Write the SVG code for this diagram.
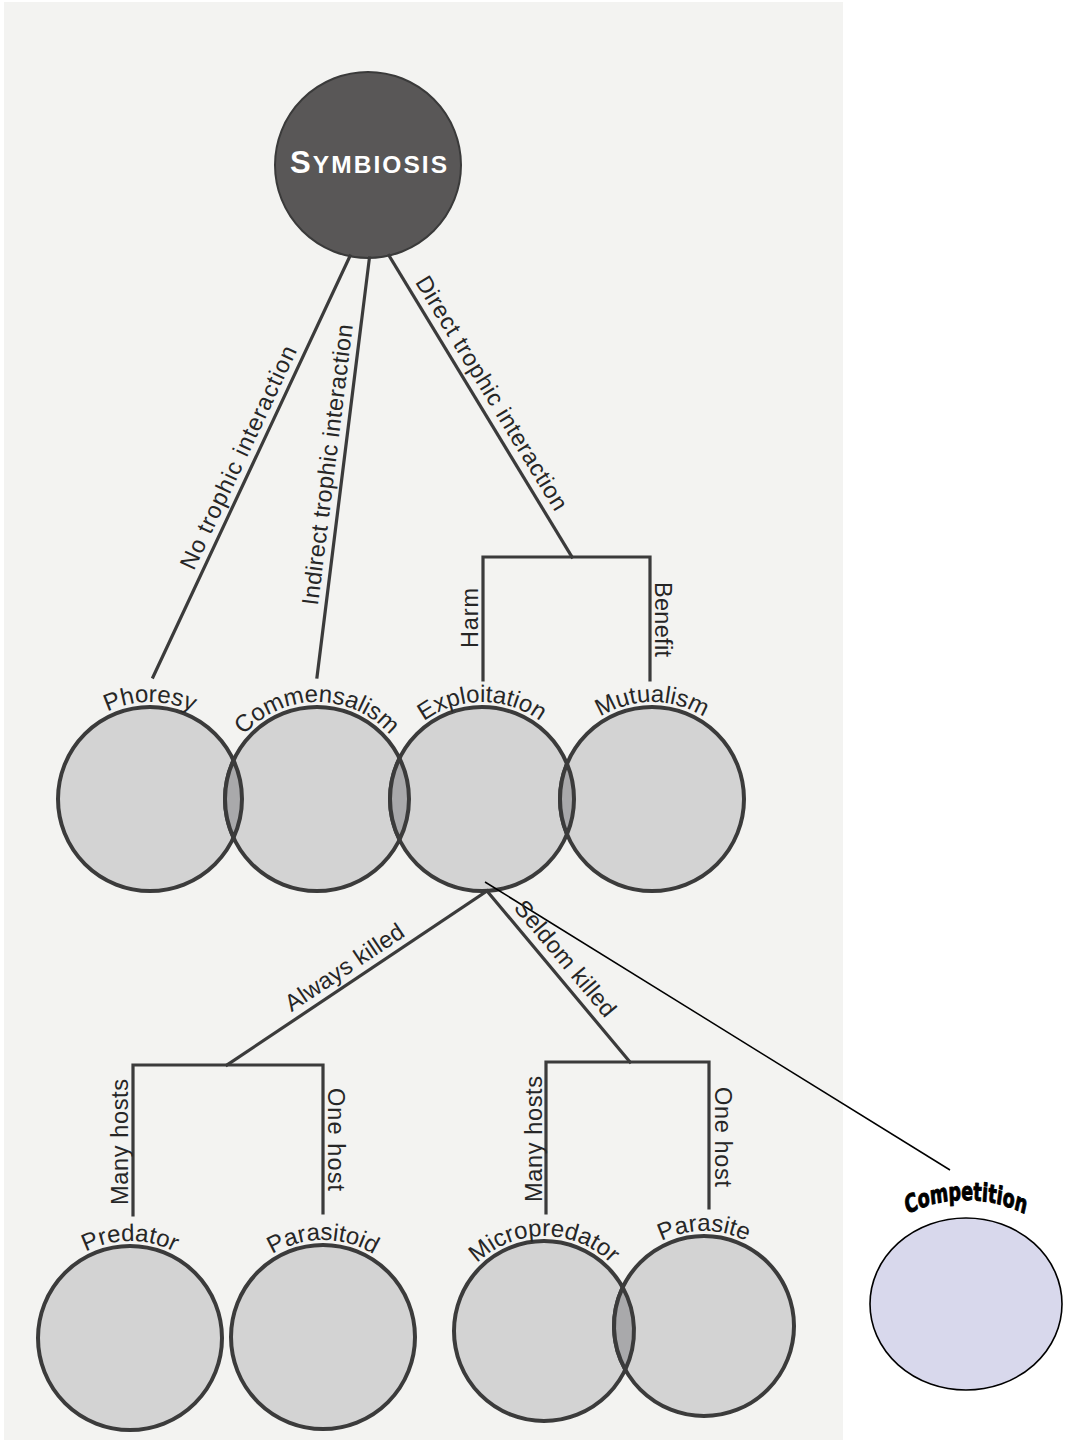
<svg xmlns="http://www.w3.org/2000/svg" width="1067" height="1440" viewBox="0 0 1067 1440">
  <style>
    .node { fill: #d3d3d3; stroke: #3b3b3b; stroke-width: 4; }
    .lens { fill: #a9a9ab; stroke: #3b3b3b; stroke-width: 4; }
    .edge { fill: none; stroke: #3b3b3b; stroke-width: 3.2; stroke-linecap: square; }
    .lbl { font-family: "Liberation Sans", Arial, sans-serif; font-size: 23.5px; fill: #262626; }
    .arc { font-family: "Liberation Sans", Arial, sans-serif; font-size: 24px; fill: #262626; }
    .title { font-family: "Liberation Sans", Arial, sans-serif; font-weight: bold; fill: #ffffff; }
    .comp { font-family: "DejaVu Sans", "Liberation Sans", sans-serif; font-weight: bold; font-size: 25px; fill: #000000; stroke: #000000; stroke-width: 1; stroke-linejoin: round; }
  </style>
  <defs>
    <!-- label baselines running over the top of each circle -->
    <path id="arc-phoresy" d="M53,799 A97,97 0 0 1 247,799"/>
    <path id="arc-commensalism" d="M220,799 A97,97 0 0 1 414,799"/>
    <path id="arc-exploitation" d="M385,799 A97,97 0 0 1 579,799"/>
    <path id="arc-mutualism" d="M555,799 A97,97 0 0 1 749,799"/>
    <path id="arc-predator" d="M33,1338 A97,97 0 0 1 227,1338"/>
    <path id="arc-parasitoid" d="M226,1337 A97,97 0 0 1 420,1337"/>
    <path id="arc-micropredator" d="M449,1331 A95,95 0 0 1 639,1331"/>
    <path id="arc-parasite" d="M609,1326 A95,95 0 0 1 799,1326"/>
    <!-- drawn inside a horizontally squeezed frame (scale 0.7 about x=966) -->
    <path id="arc-competition" d="M780.3,1330 A185.7,130 0 0 1 1151.7,1330"/>
  </defs>

  <!-- page -->
  <rect x="0" y="0" width="1067" height="1440" fill="#ffffff"/>
  <rect x="4" y="2" width="839" height="1438" fill="#f3f3f1"/>

  <!-- root -->
  <g id="symbiosis">
    <circle cx="368" cy="165" r="93" fill="#595757" stroke="#3a3a3a" stroke-width="2"/>
    <text class="title" x="290" y="173" textLength="157" lengthAdjust="spacing"><tspan font-size="31">S</tspan><tspan font-size="24.5">YMBIOSIS</tspan></text>
  </g>

  <!-- middle row -->
  <g id="phoresy">
    <circle class="node" cx="150" cy="799" r="92"/>
    <text class="arc"><textPath href="#arc-phoresy" startOffset="50%" text-anchor="middle">Phoresy</textPath></text>
  </g>
  <g id="commensalism">
    <circle class="node" cx="317" cy="799" r="92"/>
    <text class="arc"><textPath href="#arc-commensalism" startOffset="50%" text-anchor="middle">Commensalism</textPath></text>
  </g>
  <g id="exploitation">
    <circle class="node" cx="482" cy="799" r="92"/>
    <text class="arc"><textPath href="#arc-exploitation" startOffset="50%" text-anchor="middle">Exploitation</textPath></text>
  </g>
  <g id="mutualism">
    <circle class="node" cx="652" cy="799" r="92"/>
    <text class="arc"><textPath href="#arc-mutualism" startOffset="50%" text-anchor="middle">Mutualism</textPath></text>
  </g>

  <!-- bottom row -->
  <g id="predator">
    <circle class="node" cx="130" cy="1338" r="92"/>
    <text class="arc"><textPath href="#arc-predator" startOffset="50%" text-anchor="middle">Predator</textPath></text>
  </g>
  <g id="parasitoid">
    <circle class="node" cx="323" cy="1337" r="92"/>
    <text class="arc"><textPath href="#arc-parasitoid" startOffset="50%" text-anchor="middle">Parasitoid</textPath></text>
  </g>
  <g id="micropredator">
    <circle class="node" cx="544" cy="1331" r="90"/>
    <text class="arc"><textPath href="#arc-micropredator" startOffset="50%" text-anchor="middle">Micropredator</textPath></text>
  </g>
  <g id="parasite">
    <circle class="node" cx="704" cy="1326" r="90"/>
    <text class="arc"><textPath href="#arc-parasite" startOffset="50%" text-anchor="middle">Parasite</textPath></text>
  </g>

  <!-- shared zones where neighbouring circles overlap -->
  <g id="overlaps">
    <path class="lens" d="M233.5,760.4 A92,92 0 0 1 233.5,837.6 A92,92 0 0 1 233.5,760.4 Z"/>
    <path class="lens" d="M399.5,758.3 A92,92 0 0 1 399.5,839.7 A92,92 0 0 1 399.5,758.3 Z"/>
    <path class="lens" d="M567,763.8 A92,92 0 0 1 567,834.2 A92,92 0 0 1 567,763.8 Z"/>
    <path class="lens" d="M622.7,1287.4 A90,90 0 0 1 625.3,1369.6 A90,90 0 0 1 622.7,1287.4 Z"/>
  </g>

  <g id="competition">
    <ellipse cx="966" cy="1304" rx="96" ry="86" fill="#d8d8ec" stroke="#000000" stroke-width="1.6"/>
    <g transform="translate(966,0) scale(0.7,1) translate(-966,0)">
      <text class="comp"><textPath href="#arc-competition" startOffset="50%" text-anchor="middle">Competition</textPath></text>
    </g>
  </g>

  <!-- connectors -->
  <g id="connectors">
    <line class="edge" x1="350" y1="256" x2="153" y2="677"/>
    <line class="edge" x1="369.4" y1="258" x2="317" y2="677"/>
    <line class="edge" x1="389" y1="255.5" x2="572" y2="557"/>
    <path class="edge" d="M483,680 V557 H650 V680"/>

    <line class="edge" x1="487" y1="891" x2="227" y2="1065"/>
    <line class="edge" x1="487" y1="891" x2="630" y2="1062"/>
    <path class="edge" d="M133,1215 V1065 H323 V1213"/>
    <path class="edge" d="M546,1213 V1062 H709 V1208"/>

    <line x1="485" y1="882" x2="950" y2="1170" stroke="#000000" stroke-width="1.5"/>

    <!-- edge labels -->
    <text class="lbl" transform="translate(201,574.7) rotate(-64.9)" y="-8" textLength="244" lengthAdjust="spacing">No trophic interaction</text>
    <text class="lbl" transform="translate(325.8,607) rotate(-82.9)" y="-8" textLength="283" lengthAdjust="spacing">Indirect trophic interaction</text>
    <text class="lbl" transform="translate(407.8,286.2) rotate(58.6)" y="-8" textLength="270" lengthAdjust="spacing">Direct trophic interaction</text>
    <text class="lbl" transform="translate(478,648) rotate(-90)" textLength="60" lengthAdjust="spacing">Harm</text>
    <text class="lbl" transform="translate(655,582) rotate(90)" textLength="75" lengthAdjust="spacing">Benefit</text>

    <text class="lbl" transform="translate(296,1018.9) rotate(-33.8)" y="-8" textLength="138" lengthAdjust="spacing">Always killed</text>
    <text class="lbl" transform="translate(506.2,914) rotate(50.1)" y="-9" textLength="144" lengthAdjust="spacing">Seldom killed</text>

    <text class="lbl" transform="translate(128,1205) rotate(-90)" textLength="126" lengthAdjust="spacing">Many hosts</text>
    <text class="lbl" transform="translate(328,1088) rotate(90)" textLength="103" lengthAdjust="spacing">One host</text>
    <text class="lbl" transform="translate(542,1202) rotate(-90)" textLength="126" lengthAdjust="spacing">Many hosts</text>
    <text class="lbl" transform="translate(715,1087) rotate(90)" textLength="100" lengthAdjust="spacing">One host</text>
  </g>
</svg>
